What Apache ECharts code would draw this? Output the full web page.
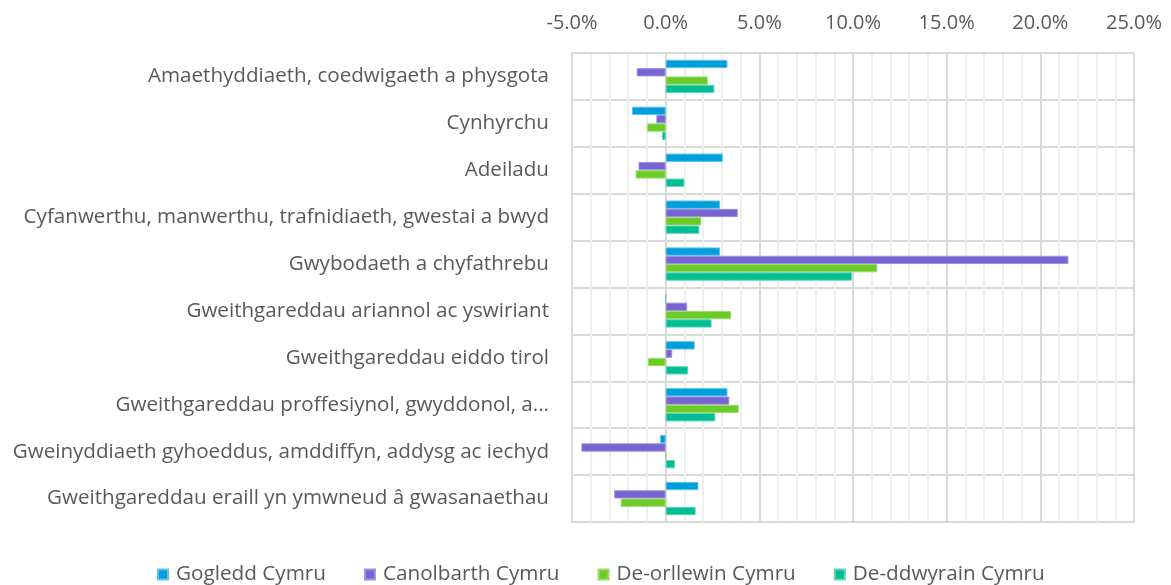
<!DOCTYPE html>
<html>
<head>
<meta charset="utf-8">
<script src="https://cdn.jsdelivr.net/npm/echarts@6/dist/echarts.min.js"></script>
<style>html,body{margin:0;padding:0;background:#fff;}#c{width:1171px;height:585px;}</style>
</head>
<body>
<div id="c"></div>
<script>
const categories = [
  'Amaethyddiaeth, coedwigaeth a physgota',
  'Cynhyrchu',
  'Adeiladu',
  'Cyfanwerthu, manwerthu, trafnidiaeth, gwestai a bwyd',
  'Gwybodaeth a chyfathrebu',
  'Gweithgareddau ariannol ac yswiriant',
  'Gweithgareddau eiddo tirol',
  'Gweithgareddau proffesiynol, gwyddonol, a...',
  'Gweinyddiaeth gyhoeddus, amddiffyn, addysg ac iechyd',
  'Gweithgareddau eraill yn ymwneud â gwasanaethau'
];
const seriesNames = ['Gogledd Cymru', 'Canolbarth Cymru', 'De-orllewin Cymru', 'De-ddwyrain Cymru'];
const gogledd    = [3.3, -1.8, 3.05, 2.9, 2.9, 0, 1.55, 3.3, -0.3, 1.75];
const canolbarth = [-1.55, -0.5, -1.45, 3.85, 21.5, 1.15, 0.35, 3.4, -4.5, -2.75];
const deOrllewin = [2.25, -1.0, -1.6, 1.9, 11.3, 3.5, -0.95, 3.9, 0, -2.4];
const deDdwyrain = [2.6, -0.2, 1.0, 1.8, 9.95, 2.45, 1.2, 2.65, 0.5, 1.6];
const xTicks = { min: -5, max: 25, interval: 5, minorInterval: 1 };
const colors = ['#009EDB', '#7764D2', '#6CCB27', '#00BE93'];
const borderColors = ['#5CC3EB', '#A093E0', '#9DDC70', '#5CD6B8'];

const FONT = 'Open Sans';
const chart = echarts.init(document.getElementById('c'), null, { renderer: 'canvas' });
const values = [gogledd, canolbarth, deOrllewin, deDdwyrain];
chart.setOption({
  animation: false,
  color: colors,
  textStyle: { fontFamily: FONT },
  grid: { left: 572, right: 37, top: 53, bottom: 63, containLabel: false },
  legend: {
    bottom: -5,
    left: 152,
    itemWidth: 10,
    itemHeight: 10,
    itemGap: 38,
    icon: 'rect',
    textStyle: { fontFamily: FONT, fontSize: 20.7, color: '#595959', padding: [0, 0, 0, 3] },
    data: seriesNames
  },
  xAxis: [{
    type: 'value',
    position: 'top',
    min: xTicks.min,
    max: xTicks.max,
    interval: xTicks.minorInterval,
    axisLine: { show: false },
    axisTick: { show: false },
    axisLabel: { show: false },
    splitLine: { show: true, lineStyle: { color: '#EFEFEF', width: 2 } }
  }, {
    type: 'value',
    position: 'top',
    min: xTicks.min,
    max: xTicks.max,
    interval: xTicks.interval,
    axisLine: { show: true, lineStyle: { color: '#D9D9D9', width: 2 } },
    axisTick: { show: false },
    axisLabel: { color: '#595959', fontSize: 20, fontFamily: FONT, margin: 20, formatter: v => v.toFixed(1) + '%' },
    splitLine: { show: true, lineStyle: { color: '#D9D9D9', width: 2 } }
  }],
  yAxis: {
    type: 'category',
    inverse: true,
    data: categories,
    axisLine: { show: true, onZero: false, lineStyle: { color: '#D9D9D9', width: 2 } },
    axisTick: { show: false },
    axisLabel: { color: '#595959', fontSize: 20.6, fontFamily: FONT, margin: 23 },
    splitLine: { show: true, lineStyle: { color: '#D9D9D9', width: 2 } }
  },
  series: seriesNames.map((n, i) => ({
    name: n,
    type: 'bar',
    xAxisIndex: 1,
    data: values[i],
    barGap: '0%',
    barCategoryGap: '29%',
    itemStyle: { color: colors[i], borderColor: borderColors[i], borderWidth: 1 }
  }))
});
</script>
</body>
</html>
